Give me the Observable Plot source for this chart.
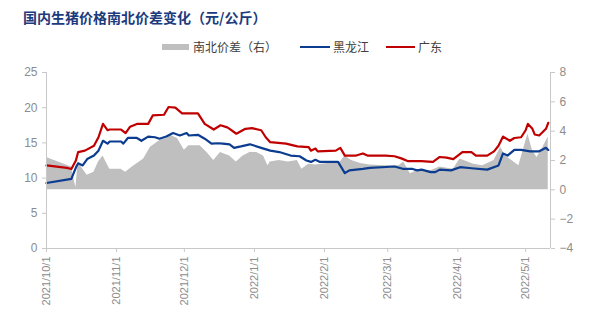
<!DOCTYPE html>
<html><head><meta charset="utf-8">
<script src="https://cdn.jsdelivr.net/npm/d3@7"></script>
<script src="https://cdn.jsdelivr.net/npm/@observablehq/plot@0.6"></script>
<style>
body{margin:0;background:#fff;width:600px;height:320px;overflow:hidden;font-family:"Noto Sans CJK SC",sans-serif}
#title{height:34px;line-height:34px;padding-left:23px;font-size:14px;font-weight:bold;color:#1c3b7c;white-space:nowrap}
#legend{position:relative;height:26px;font-size:12px;color:#404040}
#legend .sw{position:absolute}
#legend .tx{position:absolute;top:0;line-height:26px;white-space:nowrap}
</style></head>
<body>
<div id="title">国内生猪价格南北价差变化（元/公斤）</div>
<div id="legend"></div>
<div id="chart"></div>
<script>
// 黑龙江 (left axis, 元/公斤)
const hljDates = ["2021-10-01","2021-10-12","2021-10-14","2021-10-15","2021-10-17","2021-10-19","2021-10-22","2021-10-24","2021-10-26","2021-10-28","2021-10-29","2021-11-03","2021-11-04","2021-11-06","2021-11-10","2021-11-12","2021-11-15","2021-11-18","2021-11-20","2021-11-23","2021-11-26","2021-11-29","2021-12-02","2021-12-03","2021-12-07","2021-12-10","2021-12-13","2021-12-16","2021-12-18","2021-12-21","2021-12-23","2021-12-26","2021-12-30","2022-01-04","2022-01-08","2022-01-12","2022-01-17","2022-01-21","2022-01-24","2022-01-26","2022-01-28","2022-01-30","2022-02-07","2022-02-10","2022-02-12","2022-02-18","2022-02-21","2022-03-04","2022-03-08","2022-03-12","2022-03-14","2022-03-16","2022-03-20","2022-03-22","2022-03-24","2022-03-29","2022-04-02","2022-04-07","2022-04-14","2022-04-19","2022-04-21","2022-04-23","2022-04-26","2022-04-29","2022-05-03","2022-05-07","2022-05-10","2022-05-11"];
const hljValues = [9.3,9.9,11.5,12.1,11.8,12.7,13.2,13.9,15.3,14.9,15.2,15.2,14.9,15.7,15.7,15.3,15.9,15.8,15.6,15.9,16.4,16.05,16.4,16.05,16.15,15.6,14.9,14.95,14.9,14.8,14.3,14.5,14.8,14.3,13.9,13.7,13.2,13.1,12.5,12.3,12.6,12.3,12.3,10.7,11.1,11.3,11.45,11.65,11.3,11.3,11.1,11.2,10.85,10.85,11.2,11.1,11.55,11.4,11.2,11.8,13.5,13.2,14.0,14.0,13.8,13.8,14.3,14.0];

// 广东 (left axis, 元/公斤)
const gdDates = ["2021-10-01","2021-10-10","2021-10-12","2021-10-14","2021-10-15","2021-10-18","2021-10-22","2021-10-24","2021-10-26","2021-10-28","2021-10-29","2021-11-03","2021-11-05","2021-11-07","2021-11-10","2021-11-15","2021-11-17","2021-11-22","2021-11-24","2021-11-27","2021-11-30","2021-12-07","2021-12-10","2021-12-14","2021-12-17","2021-12-20","2021-12-21","2021-12-24","2021-12-28","2021-12-31","2022-01-04","2022-01-06","2022-01-08","2022-01-15","2022-01-20","2022-01-25","2022-01-26","2022-01-28","2022-01-29","2022-02-06","2022-02-08","2022-02-10","2022-02-15","2022-02-18","2022-02-20","2022-02-28","2022-03-04","2022-03-07","2022-03-10","2022-03-16","2022-03-19","2022-03-21","2022-03-24","2022-03-27","2022-03-30","2022-04-03","2022-04-07","2022-04-09","2022-04-14","2022-04-17","2022-04-19","2022-04-21","2022-04-24","2022-04-26","2022-04-29","2022-05-01","2022-05-02","2022-05-04","2022-05-05","2022-05-07","2022-05-10","2022-05-11"];
const gdValues = [11.8,11.45,11.3,12.5,13.7,13.9,14.6,15.8,17.7,16.8,16.9,16.9,16.4,17.3,17.7,17.7,18.9,19.0,20.1,20.0,19.2,19.2,17.7,16.9,17.5,17.2,17.0,16.3,17.0,17.1,16.8,15.8,15.1,14.9,14.5,14.4,13.9,14.2,13.8,13.9,14.3,13.2,13.2,13.5,13.2,13.2,13.1,12.8,12.4,12.4,12.35,12.3,13.0,12.9,12.7,13.7,13.7,13.2,13.2,13.8,14.6,15.9,15.3,15.7,15.8,16.8,17.7,17.0,16.2,16.05,17.0,17.85];

// 南北价差 (right axis, 元/公斤)
const diffDates = ["2021-10-01","2021-10-12","2021-10-14","2021-10-15","2021-10-16","2021-10-19","2021-10-22","2021-10-24","2021-10-26","2021-10-29","2021-11-03","2021-11-05","2021-11-08","2021-11-13","2021-11-16","2021-11-20","2021-11-23","2021-11-25","2021-11-28","2021-12-01","2021-12-03","2021-12-08","2021-12-11","2021-12-14","2021-12-17","2021-12-21","2021-12-24","2021-12-27","2021-12-30","2022-01-02","2022-01-05","2022-01-07","2022-01-08","2022-01-12","2022-01-16","2022-01-20","2022-01-22","2022-01-25","2022-01-28","2022-02-08","2022-02-10","2022-02-13","2022-02-17","2022-02-21","2022-02-28","2022-03-06","2022-03-08","2022-03-11","2022-03-14","2022-03-20","2022-03-24","2022-03-30","2022-04-02","2022-04-08","2022-04-12","2022-04-17","2022-04-20","2022-04-22","2022-04-24","2022-04-28","2022-05-02","2022-05-04","2022-05-06","2022-05-08","2022-05-11"];
const diffValues = [2.2,1.55,0.15,1.9,1.65,1.0,1.2,1.9,2.3,1.4,1.4,1.2,1.55,2.1,2.9,3.35,3.5,3.7,3.5,2.7,3.0,3.0,2.55,2.0,2.55,2.3,1.9,2.3,2.55,2.55,2.3,1.65,1.9,2.0,1.9,2.0,1.4,1.75,1.7,1.9,2.3,2.0,1.8,1.7,1.65,1.65,1.9,1.1,1.3,1.3,1.55,1.4,2.1,1.75,1.65,2.0,2.9,2.3,2.1,1.65,3.8,2.7,2.2,2.7,3.6];

const xTickLabels = ["2021/10/1","2021/11/1","2021/12/1","2022/1/1","2022/2/1","2022/3/1","2022/4/1","2022/5/1"];
const leftTicks = [0,5,10,15,20,25];
const rightTicks = [-4,-2,0,2,4,6,8];
const rightTickLabels = ["−4","−2","0","2","4","6","8"];
const seriesNames = ["南北价差（右）","黑龙江","广东"];
const seriesColors = ["#bfbfbf","#0b3c8f","#c00000"];

const parse = d3.utcParse("%Y-%m-%d");
const parseTick = d3.utcParse("%Y/%m/%d");
const rMin = -4, rMax = 8, lMin = 0, lMax = 25;
const toL = r => lMin + (r - rMin) * (lMax - lMin) / (rMax - rMin);

const hlj = hljDates.map((d, i) => ({date: parse(d), v: hljValues[i]}));
const gd = gdDates.map((d, i) => ({date: parse(d), v: gdValues[i]}));
const diff = diffDates.map((d, i) => ({date: parse(d), v: diffValues[i]}));
const xTicks = xTickLabels.map(parseTick);
const xLabelMap = new Map(xTicks.map((t, i) => [+t, xTickLabels[i]]));
const rTickPos = rightTicks.map(toL);
const rLabelMap = new Map(rTickPos.map((p, i) => [p, rightTickLabels[i]]));
const x0 = parse("2021-10-01"), x1 = parse("2022-05-12");
const base = toL(0);
const axisGray = "#c8c8c8";

const chart = Plot.plot({
  width: 600, height: 260,
  marginTop: 12, marginBottom: 72, marginLeft: 46, marginRight: 50,
  x: {type: "utc", domain: [x0, x1]},
  y: {domain: [lMin, lMax]},
  style: {fontFamily: "'Liberation Sans', Arial, sans-serif", fontSize: "12px", color: "#8c8c8c", background: "#fff"},
  marks: [
    Plot.areaY(diff, {x: "date", y1: () => base, y2: d => toL(d.v), fill: seriesColors[0], curve: "linear"}),
    Plot.lineY(hlj, {x: "date", y: "v", stroke: seriesColors[1], strokeWidth: 2.2}),
    Plot.lineY(gd, {x: "date", y: "v", stroke: seriesColors[2], strokeWidth: 2.2}),
    Plot.ruleX([x0], {stroke: axisGray}),
    Plot.ruleX([x1], {stroke: axisGray}),
    Plot.ruleY([lMin], {stroke: axisGray}),
    Plot.axisY({anchor: "left", ticks: leftTicks, tickSize: 4, tickPadding: 5, label: null, stroke: axisGray, fontSize: 12}),
    Plot.axisY({anchor: "right", ticks: rTickPos, tickFormat: d => rLabelMap.get(d), tickSize: 4, tickPadding: 5, label: null, stroke: axisGray, fontSize: 12}),
    Plot.axisX({ticks: xTicks, tickFormat: d => xLabelMap.get(+d), tickRotate: -90, tickSize: 4, tickPadding: 4, label: null, stroke: axisGray, fontSize: 11})
  ]
});
document.getElementById("chart").appendChild(chart);

// legend
const legend = document.getElementById("legend");
const items = [
  {sx: 162, sw: 27, sh: 6, tx: 193},
  {sx: 300, sw: 30, sh: 2.5, tx: 333},
  {sx: 386, sw: 29, sh: 2.5, tx: 418}
];
items.forEach((it, i) => {
  const s = document.createElement("div");
  s.className = "sw";
  s.style.left = it.sx + "px"; s.style.width = it.sw + "px"; s.style.height = it.sh + "px";
  s.style.top = (13 - it.sh / 2) + "px"; s.style.background = seriesColors[i];
  legend.appendChild(s);
  const t = document.createElement("div");
  t.className = "tx"; t.style.left = it.tx + "px"; t.textContent = seriesNames[i];
  legend.appendChild(t);
});
</script>
</body></html>
